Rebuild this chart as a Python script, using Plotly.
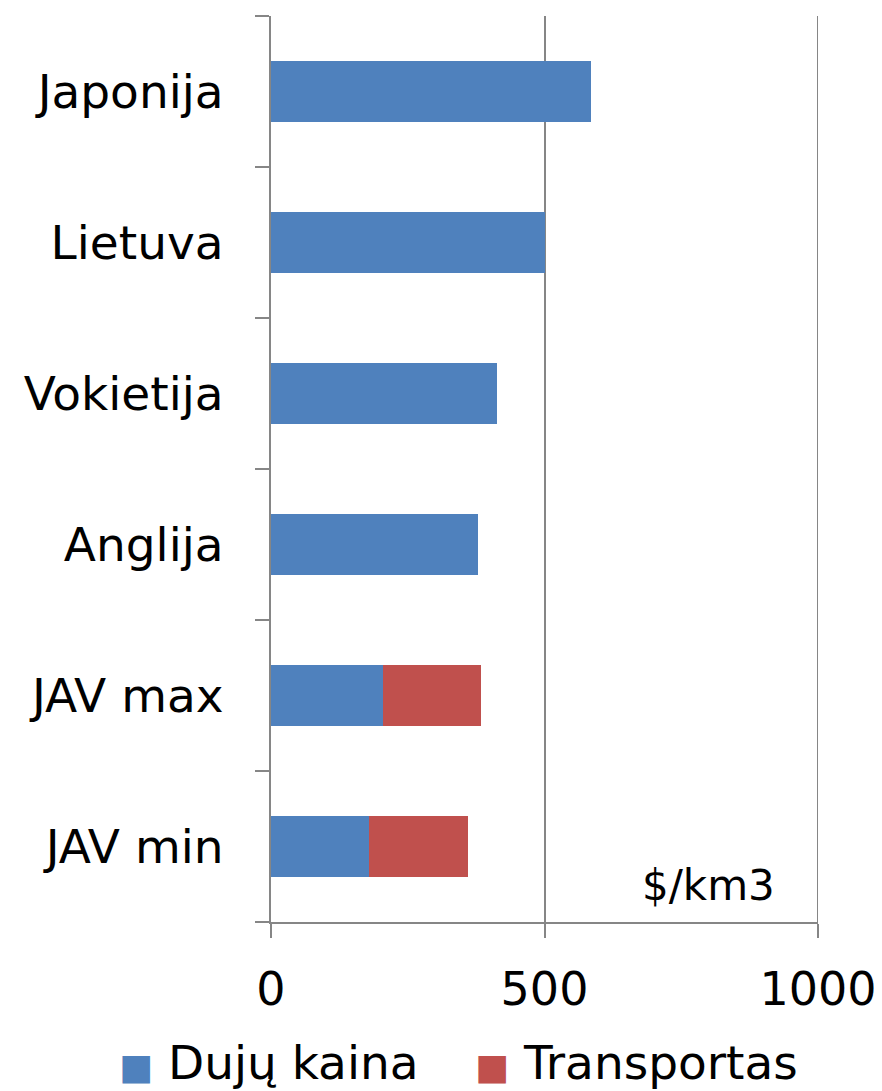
import plotly.graph_objects as go

countries = ["Japonija", "Lietuva", "Vokietija", "Anglija", "JAV max", "JAV min"]
gas_price = [585, 500, 413, 378, 204, 179]
transport = [0, 0, 0, 0, 180, 181]
x_ticks = [0, 500, 1000]
series_names = ["Dujų kaina", "Transportas"]

BLUE = "#4F81BD"
RED = "#C0504D"
GRID = "#868686"
FONT = "DejaVu Sans, Verdana, sans-serif"

fig = go.Figure()
fig.add_trace(
    go.Bar(
        y=countries,
        x=gas_price,
        orientation="h",
        name=series_names[0],
        marker={"color": BLUE, "line": {"width": 0}},
    )
)
fig.add_trace(
    go.Bar(
        y=countries,
        x=transport,
        orientation="h",
        name=series_names[1],
        marker={"color": RED, "line": {"width": 0}},
    )
)

# right-edge gridline (plotly drops the one sitting on the range end)
fig.add_shape(
    type="line", xref="x", yref="paper",
    x0=x_ticks[-1], x1=x_ticks[-1], y0=0, y1=1,
    line={"color": GRID, "width": 2},
)

fig.add_annotation(
    x=0.80, y=0.04, xref="paper", yref="paper",
    xanchor="center", yanchor="middle",
    text="$/km3", showarrow=False,
    font={"size": 42, "color": "#000000", "family": FONT},
)

# legend drawn as text so the colour squares match the original size
legend_x = [-0.282, 0.369]
for name, color, lx in zip(series_names, [BLUE, RED], legend_x):
    fig.add_annotation(
        x=lx, y=-0.1555, xref="paper", yref="paper",
        xanchor="left", yanchor="middle",
        text=f"<span style='color:{color};font-size:36px'>■</span> {name}",
        showarrow=False,
        font={"size": 47, "color": "#000000", "family": FONT},
    )

fig.update_layout(
    width=882,
    height=1091,
    barmode="stack",
    bargap=0.6,
    showlegend=False,
    plot_bgcolor="white",
    paper_bgcolor="white",
    margin={"l": 263, "r": 72, "t": 8, "b": 177},
    font={"family": FONT, "color": "#000000"},
    xaxis={
        "range": [0, 1000],
        "tickvals": x_ticks,
        "tickfont": {"size": 46},
        "showgrid": True,
        "gridcolor": GRID,
        "gridwidth": 2,
        "showline": True,
        "linecolor": GRID,
        "linewidth": 2,
        "ticks": "outside",
        "ticklen": 14,
        "tickwidth": 2,
        "tickcolor": GRID,
        "zeroline": False,
        "ticklabelstandoff": 12,
    },
    yaxis={
        "categoryorder": "array",
        "categoryarray": countries[::-1],
        "tickfont": {"size": 47},
        "showline": True,
        "linecolor": GRID,
        "linewidth": 2,
        "ticks": "outside",
        "tickson": "boundaries",
        "ticklen": 14,
        "tickwidth": 2,
        "tickcolor": GRID,
        "showgrid": False,
        "ticklabelstandoff": 36,
        "automargin": False,
    },
)

fig.write_html("out.html")
